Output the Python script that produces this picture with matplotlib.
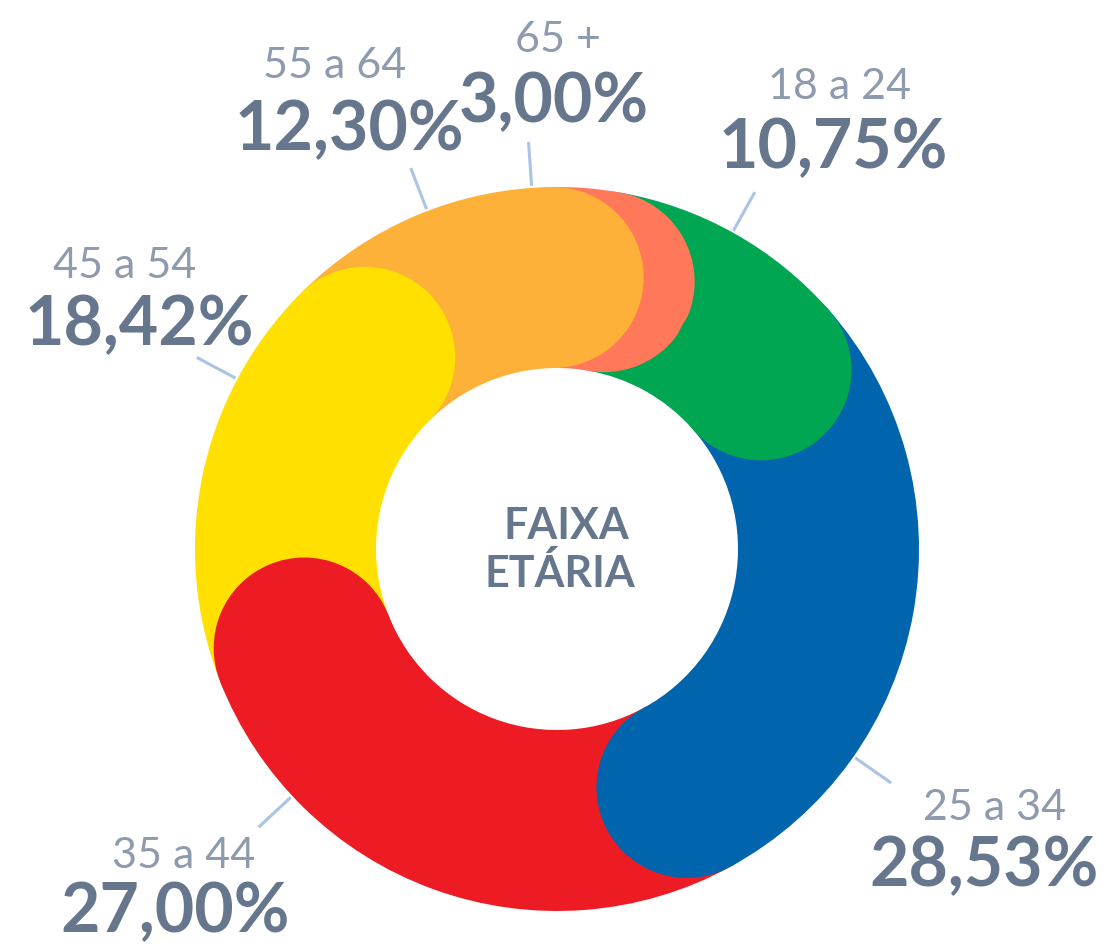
import numpy as np
import matplotlib
matplotlib.use("Agg")
import matplotlib.pyplot as plt
from matplotlib.patches import Circle

# data
ages = ['18 a 24', '25 a 34', '35 a 44', '45 a 54', '55 a 64', '65 +']
shares = [10.75, 28.53, 27.00, 18.42, 12.30, 3.00]
colors = ['#00A651', '#0065AC', '#ED1C24', '#FFE000', '#FDB139', '#FF785A']

# layout (pixel offsets from ring centre, y up)
cat_pos = [(282, 450), (438, -271), (-373, -319), (-432, 271), (-222, 471), (1, 497)]
pct_pos = [(276, 381), (427, -337), (-382, -383), (-418, 204), (-208, 399), (-3, 427)]
leader_at = [29, 125, 227, 298, 339, 356]  # degrees clockwise from 12 o'clock

R = 362
W = 181
txt_light = '#8E9BAE'
txt_dark = '#66778D'
line_col = '#A9C4E4'

plt.rcParams['font.family'] = ['Lato', 'DejaVu Sans']

fig = plt.figure(figsize=(11.06, 9.44), dpi=100)
ax = fig.add_axes([0, 0, 1, 1])

wedges, _ = ax.pie(shares, colors=colors, radius=R, startangle=80,
                   counterclock=False,
                   wedgeprops=dict(width=W, linewidth=0))

# round caps at the clockwise end of every slice, each one lying on the next slice
rmid = R - W / 2
n = len(wedges)
for i in range(n - 1, -1, -1):
    w = wedges[i]
    t = np.radians(w.theta1)
    cap = Circle((rmid * np.cos(t), rmid * np.sin(t)), W / 2,
                 facecolor=colors[i], linewidth=0, zorder=2 + (n - i))
    ax.add_patch(cap)

# leader lines + labels
for i in range(n):
    a = np.radians(leader_at[i])
    ax.plot([364 * np.sin(a), 408 * np.sin(a)], [364 * np.cos(a), 408 * np.cos(a)],
            color=line_col, lw=2.2, solid_capstyle='butt', zorder=1)
    ax.text(cat_pos[i][0], cat_pos[i][1], ages[i], ha='center', va='baseline',
            fontsize=31, fontweight='normal', color=txt_light, zorder=10)
    pct = f"{shares[i]:.2f}".replace('.', ',') + '%'
    ax.text(pct_pos[i][0], pct_pos[i][1], pct, ha='center', va='baseline',
            fontsize=49, fontweight='bold', color=txt_dark, zorder=11)

ax.text(9, 10, 'FAIXA', ha='center', va='baseline', fontsize=31,
        fontweight='bold', color=txt_dark, zorder=12)
ax.text(3, -38, 'ETÁRIA', ha='center', va='baseline', fontsize=31,
        fontweight='bold', color=txt_dark, zorder=12)

ax.set_xlim(-557, 549)
ax.set_ylim(-395, 549)
ax.set_aspect('equal')
ax.axis('off')

fig.savefig('out.png', dpi=100)
